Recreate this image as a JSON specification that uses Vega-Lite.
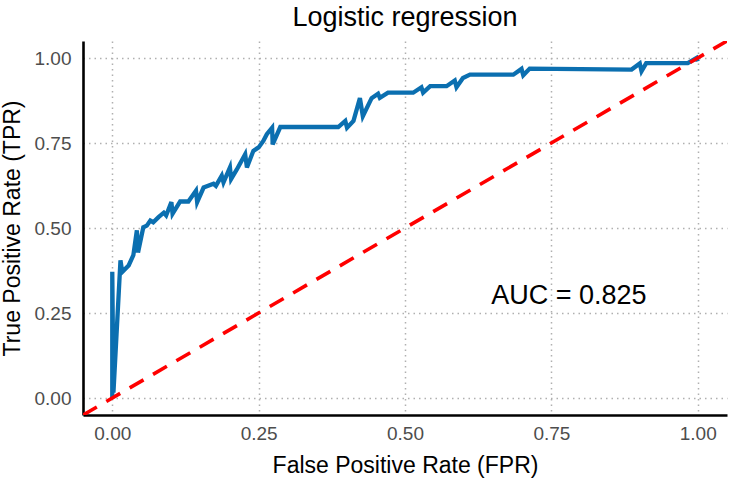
{
  "$schema": "https://vega.github.io/schema/vega-lite/v6.json",
  "width": 644,
  "height": 374,
  "autosize": {"type": "none"},
  "padding": {"left": 83, "top": 41, "right": 2, "bottom": 63},
  "background": "white",
  "title": {
    "text": "Logistic regression",
    "font": "Liberation Sans, Arial, sans-serif",
    "fontSize": 27,
    "fontWeight": "normal",
    "color": "#000000",
    "anchor": "middle",
    "offset": 9
  },
  "datasets": {
    "roc": [
      {"i": 1, "fpr": 0.0, "tpr": 0.0},
      {"i": 2, "fpr": 0.0, "tpr": 0.371},
      {"i": 3, "fpr": 0.002, "tpr": 0.016},
      {"i": 4, "fpr": 0.014, "tpr": 0.405},
      {"i": 5, "fpr": 0.017, "tpr": 0.371},
      {"i": 6, "fpr": 0.028, "tpr": 0.39},
      {"i": 7, "fpr": 0.036, "tpr": 0.42},
      {"i": 8, "fpr": 0.042, "tpr": 0.493},
      {"i": 9, "fpr": 0.044, "tpr": 0.428},
      {"i": 10, "fpr": 0.053, "tpr": 0.502},
      {"i": 11, "fpr": 0.059, "tpr": 0.507},
      {"i": 12, "fpr": 0.065, "tpr": 0.522},
      {"i": 13, "fpr": 0.07, "tpr": 0.517},
      {"i": 14, "fpr": 0.079, "tpr": 0.532},
      {"i": 15, "fpr": 0.088, "tpr": 0.545},
      {"i": 16, "fpr": 0.092, "tpr": 0.537},
      {"i": 17, "fpr": 0.101, "tpr": 0.576},
      {"i": 18, "fpr": 0.103, "tpr": 0.542},
      {"i": 19, "fpr": 0.116, "tpr": 0.578},
      {"i": 20, "fpr": 0.13, "tpr": 0.578},
      {"i": 21, "fpr": 0.143, "tpr": 0.61},
      {"i": 22, "fpr": 0.145, "tpr": 0.576},
      {"i": 23, "fpr": 0.156, "tpr": 0.619},
      {"i": 24, "fpr": 0.173, "tpr": 0.63},
      {"i": 25, "fpr": 0.177, "tpr": 0.624},
      {"i": 26, "fpr": 0.187, "tpr": 0.654},
      {"i": 27, "fpr": 0.19, "tpr": 0.634},
      {"i": 28, "fpr": 0.201, "tpr": 0.678},
      {"i": 29, "fpr": 0.203, "tpr": 0.644},
      {"i": 30, "fpr": 0.213, "tpr": 0.673},
      {"i": 31, "fpr": 0.227, "tpr": 0.717},
      {"i": 32, "fpr": 0.23, "tpr": 0.678},
      {"i": 33, "fpr": 0.241, "tpr": 0.727},
      {"i": 34, "fpr": 0.25, "tpr": 0.737},
      {"i": 35, "fpr": 0.258, "tpr": 0.756},
      {"i": 36, "fpr": 0.264, "tpr": 0.776},
      {"i": 37, "fpr": 0.273, "tpr": 0.795},
      {"i": 38, "fpr": 0.274, "tpr": 0.746},
      {"i": 39, "fpr": 0.287, "tpr": 0.797},
      {"i": 40, "fpr": 0.386, "tpr": 0.797},
      {"i": 41, "fpr": 0.398, "tpr": 0.815},
      {"i": 42, "fpr": 0.401, "tpr": 0.795},
      {"i": 43, "fpr": 0.412, "tpr": 0.815},
      {"i": 44, "fpr": 0.423, "tpr": 0.882},
      {"i": 45, "fpr": 0.428, "tpr": 0.829},
      {"i": 46, "fpr": 0.443, "tpr": 0.882},
      {"i": 47, "fpr": 0.454, "tpr": 0.895},
      {"i": 48, "fpr": 0.457, "tpr": 0.883},
      {"i": 49, "fpr": 0.471, "tpr": 0.898},
      {"i": 50, "fpr": 0.514, "tpr": 0.898},
      {"i": 51, "fpr": 0.528, "tpr": 0.914},
      {"i": 52, "fpr": 0.531, "tpr": 0.898},
      {"i": 53, "fpr": 0.543, "tpr": 0.917},
      {"i": 54, "fpr": 0.571, "tpr": 0.917},
      {"i": 55, "fpr": 0.585, "tpr": 0.934},
      {"i": 56, "fpr": 0.588, "tpr": 0.914},
      {"i": 57, "fpr": 0.599, "tpr": 0.941},
      {"i": 58, "fpr": 0.611, "tpr": 0.951},
      {"i": 59, "fpr": 0.685, "tpr": 0.951},
      {"i": 60, "fpr": 0.699, "tpr": 0.968},
      {"i": 61, "fpr": 0.702, "tpr": 0.949},
      {"i": 62, "fpr": 0.713, "tpr": 0.969},
      {"i": 63, "fpr": 0.887, "tpr": 0.966},
      {"i": 64, "fpr": 0.901, "tpr": 0.984},
      {"i": 65, "fpr": 0.904, "tpr": 0.961},
      {"i": 66, "fpr": 0.912, "tpr": 0.985},
      {"i": 67, "fpr": 0.983, "tpr": 0.985},
      {"i": 68, "fpr": 0.998, "tpr": 1.0},
      {"i": 69, "fpr": 1.0, "tpr": 0.99}
    ],
    "chance": [
      {"fpr": -0.05, "tpr": -0.05},
      {"fpr": 1.05, "tpr": 1.05}
    ],
    "note": [
      {"fpr": 0.78, "tpr": 0.3, "label": "AUC = 0.825"}
    ]
  },
  "encoding": {
    "x": {
      "field": "fpr",
      "type": "quantitative",
      "scale": {"domain": [-0.05, 1.05], "nice": false, "zero": false},
      "axis": {
        "title": "False Positive Rate (FPR)",
        "values": [0, 0.25, 0.5, 0.75, 1],
        "format": ".2f",
        "ticks": false,
        "tickSize": 0,
        "domainColor": "#000000",
        "domainWidth": 2.6,
        "gridColor": "#B0B0B0",
        "gridDash": [1.5, 4],
        "gridWidth": 1.5,
        "labelFont": "Liberation Sans, Arial, sans-serif",
        "labelFontSize": 19,
        "labelColor": "#4D4D4D",
        "labelPadding": 9,
        "titleFont": "Liberation Sans, Arial, sans-serif",
        "titleFontSize": 23,
        "titleFontWeight": "normal",
        "titleColor": "#000000",
        "titlePadding": 11
      }
    },
    "y": {
      "field": "tpr",
      "type": "quantitative",
      "scale": {"domain": [-0.05, 1.05], "nice": false, "zero": false},
      "axis": {
        "title": "True Positive Rate (TPR)",
        "values": [0, 0.25, 0.5, 0.75, 1],
        "format": ".2f",
        "ticks": false,
        "tickSize": 0,
        "domainColor": "#000000",
        "domainWidth": 2.6,
        "gridColor": "#B0B0B0",
        "gridDash": [1.5, 4],
        "gridWidth": 1.5,
        "labelFont": "Liberation Sans, Arial, sans-serif",
        "labelFontSize": 19,
        "labelColor": "#4D4D4D",
        "labelPadding": 12,
        "titleFont": "Liberation Sans, Arial, sans-serif",
        "titleFontSize": 23,
        "titleFontWeight": "normal",
        "titleColor": "#000000",
        "titlePadding": 10
      }
    }
  },
  "layer": [
    {
      "data": {"name": "roc"},
      "mark": {"type": "line", "color": "#0B6FB0", "strokeWidth": 4.3, "strokeJoin": "miter", "clip": true},
      "encoding": {
        "order": {"field": "i", "type": "quantitative"}
      }
    },
    {
      "data": {"name": "chance"},
      "mark": {"type": "line", "color": "#FF0000", "strokeWidth": 3.6, "strokeDash": [16, 11], "clip": true},
      "encoding": {}
    },
    {
      "data": {"name": "note"},
      "mark": {
        "type": "text",
        "font": "Liberation Sans, Arial, sans-serif",
        "fontSize": 27,
        "color": "#000000",
        "align": "center",
        "baseline": "middle"
      },
      "encoding": {
        "text": {"field": "label", "type": "nominal"}
      }
    }
  ],
  "config": {
    "view": {"stroke": null}
  }
}
